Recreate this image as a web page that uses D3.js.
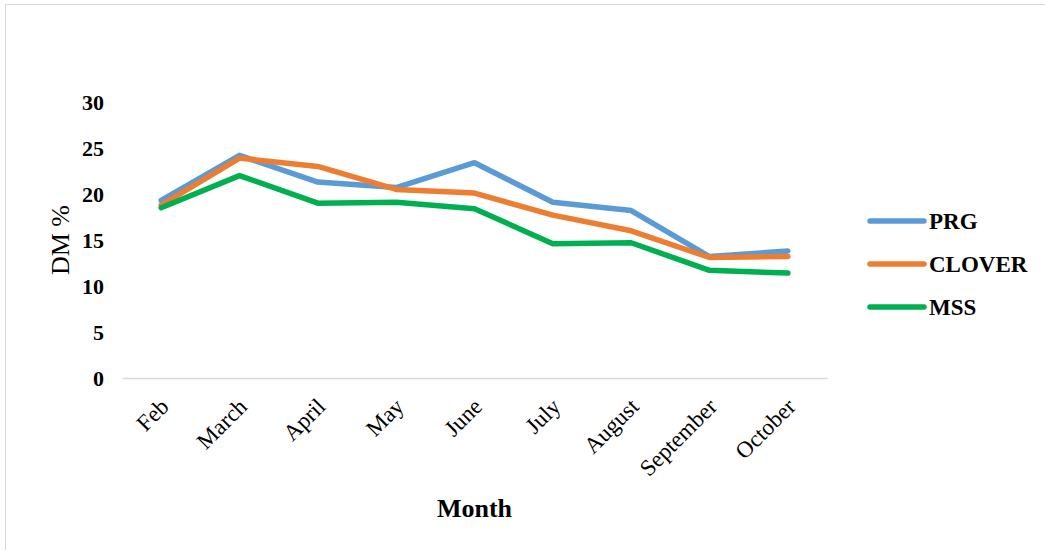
<!DOCTYPE html>
<html>
<head>
<meta charset="utf-8">
<script src="https://cdn.jsdelivr.net/npm/d3@7"></script>
<style>
  html, body { margin: 0; padding: 0; background: #fff; }
  svg { display: block; }
  text { font-family: "Liberation Serif", "Times New Roman", serif; fill: #000; }
</style>
</head>
<body>
<svg id="chart" width="1045" height="550"></svg>
<script>
// Dry-matter percentage by month for three forage types
const months = ["Feb", "March", "April", "May", "June", "July", "August", "September", "October"];
const prg    = [19.3, 24.2, 21.3, 20.7, 23.4, 19.1, 18.2, 13.2, 13.8];
const clover = [18.8, 23.9, 23.0, 20.5, 20.1, 17.7, 16.0, 13.1, 13.2];
const mss    = [18.5, 22.0, 19.0, 19.1, 18.4, 14.6, 14.7, 11.7, 11.4];
const seriesNames = ["PRG", "CLOVER", "MSS"];
const yTicks = [0, 5, 10, 15, 20, 25, 30];

const colors = { PRG: "#5B9BD5", CLOVER: "#ED7D31", MSS: "#00B050" };
const series = [
  { name: seriesNames[0], values: prg },
  { name: seriesNames[1], values: clover },
  { name: seriesNames[2], values: mss }
];

const svg = d3.select("#chart");

// outer frame
svg.append("rect")
  .attr("x", 5.5).attr("y", 4.5)
  .attr("width", 1100).attr("height", 600)
  .attr("fill", "none").attr("stroke", "#d9d9d9").attr("stroke-width", 1);

const plot = { left: 122, right: 827, top: 102, bottom: 378 };

const x = d3.scaleBand().domain(months).range([plot.left, plot.right]);
const y = d3.scaleLinear().domain([0, 30]).range([plot.bottom, plot.top]);

// category axis
const xAxis = svg.append("g")
  .attr("transform", `translate(0,${plot.bottom})`)
  .call(d3.axisBottom(x).tickSize(0).tickPadding(0));
xAxis.select(".domain").attr("stroke", "#d9d9d9").attr("stroke-width", 1.5);
xAxis.selectAll(".tick text")
  .attr("font-family", "Liberation Serif")
  .attr("font-size", 23)
  .attr("fill", "#000")
  .attr("text-anchor", "end")
  .attr("dy", 0)
  .attr("transform", "translate(9,30) rotate(-45)");

// value axis (labels only)
const yAxis = svg.append("g")
  .attr("transform", `translate(${plot.left},0)`)
  .call(d3.axisLeft(y).tickValues(yTicks).tickSize(0).tickPadding(18));
yAxis.select(".domain").remove();
yAxis.selectAll(".tick text")
  .attr("font-family", "Liberation Serif")
  .attr("font-size", 22)
  .attr("font-weight", "bold")
  .attr("fill", "#000");

// lines
const line = d3.line()
  .x((d, i) => x(months[i]) + x.bandwidth() / 2)
  .y(d => y(d));

svg.append("g").selectAll("path")
  .data(series)
  .join("path")
  .attr("d", d => line(d.values))
  .attr("fill", "none")
  .attr("stroke", d => colors[d.name])
  .attr("stroke-width", 5.5)
  .attr("stroke-linejoin", "round")
  .attr("stroke-linecap", "round");

// axis titles
svg.append("text")
  .attr("x", (plot.left + plot.right) / 2)
  .attr("y", 517)
  .attr("text-anchor", "middle")
  .attr("font-size", 26)
  .attr("font-weight", "bold")
  .text("Month");

svg.append("text")
  .attr("transform", `translate(69,240) rotate(-90)`)
  .attr("text-anchor", "middle")
  .attr("font-size", 26)
  .text("DM %");

// legend
const legend = svg.append("g").selectAll("g")
  .data(series)
  .join("g")
  .attr("transform", (d, i) => `translate(870,${221 + i * 43})`);
legend.append("line")
  .attr("x1", 0).attr("x2", 54)
  .attr("stroke", d => colors[d.name])
  .attr("stroke-width", 5.5)
  .attr("stroke-linecap", "round");
legend.append("text")
  .attr("x", 59).attr("dy", "0.35em")
  .attr("font-size", 23)
  .attr("font-weight", "bold")
  .text(d => d.name);
</script>
</body>
</html>
